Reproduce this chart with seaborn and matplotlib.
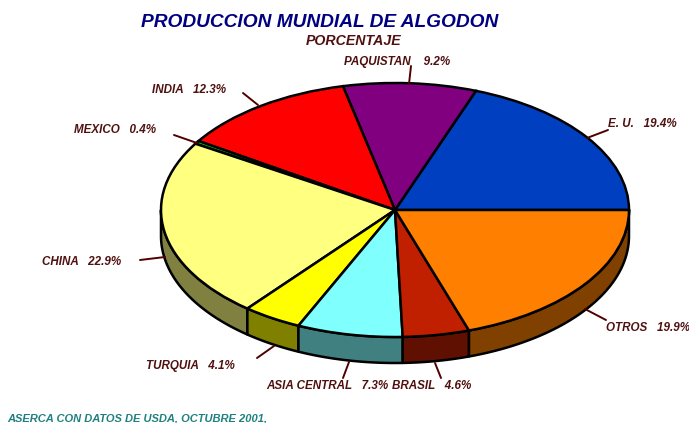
import numpy as np
import matplotlib
matplotlib.use("Agg")
import matplotlib.pyplot as plt
import seaborn as sns

categories = ["E. U.", "PAQUISTAN", "INDIA", "MEXICO", "CHINA", "TURQUIA", "ASIA CENTRAL", "BRASIL", "OTROS"]
values = [19.4, 9.2, 12.3, 0.4, 22.9, 4.1, 7.3, 4.6, 19.9]
top_colors = ["#0040C0", "#800080", "#FF0000", "#00C000", "#FFFF80", "#FFFF00", "#80FFFF", "#C02000", "#FF8000"]
side_colors = ["#002060", "#400040", "#800000", "#006000", "#808040", "#808000", "#408080", "#601000", "#804000"]
title = "PRODUCCION MUNDIAL DE ALGODON"
subtitle = "PORCENTAJE"
source = "ASERCA CON DATOS DE USDA, OCTUBRE 2001,"

sns.set_theme(style="white")
plt.rcParams["font.family"] = ["Liberation Sans", "DejaVu Sans"]

W, H = 689, 423
CX, CY, RX, RY, DEPTH = 395, 210, 234, 127, 26
LABEL = "#501010"


def X(px):
    return (px - CX) / RX


def Y(py):
    return -(py - CY) / RY


fig = plt.figure(figsize=(W / 100, H / 100), dpi=100, facecolor="white")
ax = fig.add_axes([0, 0, 1, 1])

d = DEPTH / RY
fr = np.array(values) / sum(values)
edges = np.concatenate([[0], np.cumsum(fr)]) * 2 * np.pi

# Extruded rim: only the part of each slice in the lower half is visible
for i, col in enumerate(side_colors):
    a0, a1 = max(edges[i], np.pi), min(edges[i + 1], 2 * np.pi)
    if a1 <= a0:
        continue
    t = np.linspace(a0, a1, 60)
    xs, ys = np.cos(t), np.sin(t)
    ax.fill(np.r_[xs, xs[::-1]], np.r_[ys, ys[::-1] - d], facecolor=col,
            edgecolor="black", linewidth=1.8, joinstyle="round", zorder=1)

ax.pie(values, colors=top_colors, startangle=0, counterclock=True, radius=1,
       center=(0, 0), wedgeprops=dict(edgecolor="black", linewidth=1.8, zorder=2))
ax.set_aspect("auto")
ax.set_xlim(X(0), X(W))
ax.set_ylim(Y(H), Y(0))
ax.axis("off")

leaders = {
    "E. U.": ((608, 130), (587, 138)),
    "PAQUISTAN": ((411, 66), (409, 84)),
    "INDIA": ((243, 93), (258, 105)),
    "MEXICO": ((174, 135), (197, 143)),
    "CHINA": ((140, 260), (165, 257)),
    "TURQUIA": ((257, 358), (274, 346)),
    "ASIA CENTRAL": ((343, 378), (349, 362)),
    "BRASIL": ((441, 378), (435, 363)),
    "OTROS": ((606, 320), (585, 309)),
}
anchors = {
    "E. U.": (608, 124),
    "PAQUISTAN": (344, 62),
    "INDIA": (152, 90),
    "MEXICO": (74, 130),
    "CHINA": (42, 262),
    "TURQUIA": (146, 366),
    "ASIA CENTRAL": (266, 386),
    "BRASIL": (392, 386),
    "OTROS": (606, 328),
}
for name, val in zip(categories, values):
    (x0, y0), (x1, y1) = leaders[name]
    ax.plot([X(x0), X(x1)], [Y(y0), Y(y1)], color="#500000", lw=1.4, zorder=3)
    lx, ly = anchors[name]
    gap = "    " if name == "PAQUISTAN" else "   "
    ax.text(X(lx), Y(ly), f"{name}{gap}{val}%", color=LABEL, fontsize=8.35,
            fontweight="bold", fontstyle="italic", ha="left", va="center", zorder=4)

ax.text(X(319.5), Y(22), title, color="#000080", fontsize=13.8, fontweight="bold",
        fontstyle="italic", ha="center", va="center")
ax.text(X(353.5), Y(41), subtitle, color=LABEL, fontsize=10.2, fontweight="bold",
        fontstyle="italic", ha="center", va="center")
ax.text(X(7), Y(418), source, color="#208080", fontsize=8.05, fontweight="bold",
        fontstyle="italic", ha="left", va="center")

fig.savefig("out.png", dpi=100, facecolor="white")
